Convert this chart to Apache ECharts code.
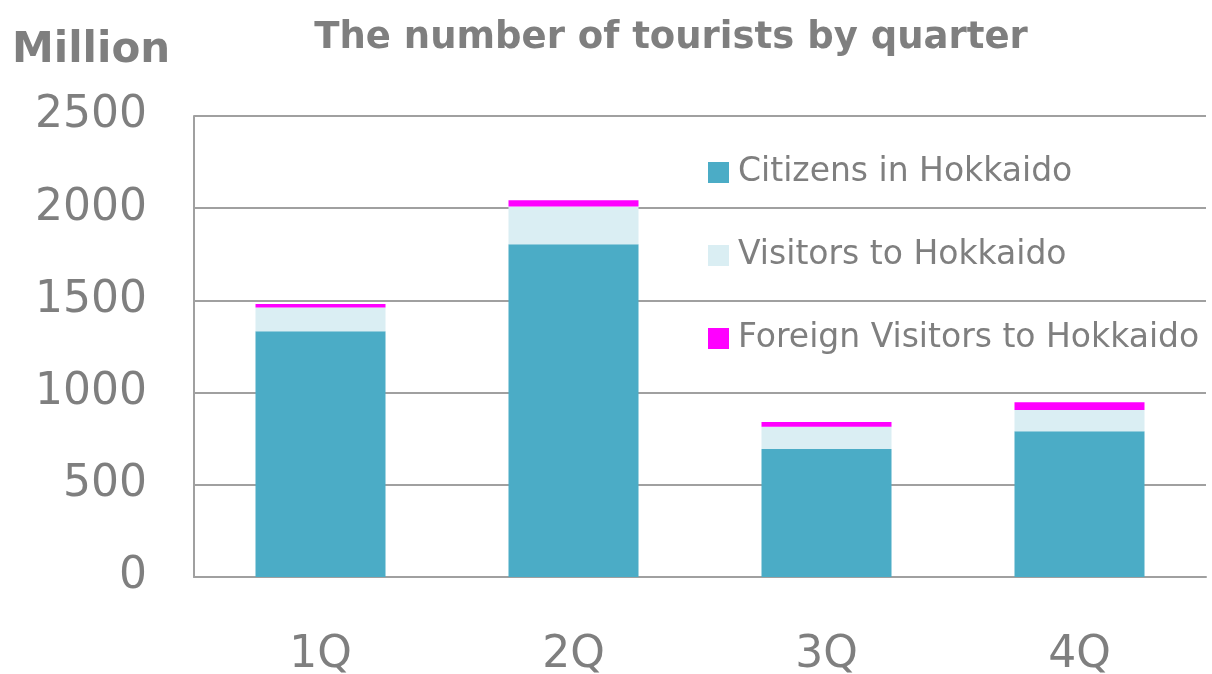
<!DOCTYPE html>
<html>
<head>
<meta charset="utf-8">
<script src="https://cdn.jsdelivr.net/npm/echarts@6/dist/echarts.min.js"></script>
<style>
    html, body { margin: 0; padding: 0; background: #fff; }
    #chart { width: 1212px; height: 674px; }
</style>
</head>
<body>
<div id="chart"></div>
<script>

// 資料

const quarters = ['1Q', '2Q', '3Q', '4Q'];
const citizens = [1333, 1805, 694, 791];
const visitors = [129, 204, 121, 114];
const foreign = [19, 34, 25, 42];
const yTicks = [0, 500, 1000, 1500, 2000, 2500];

const grayText = '#7f7f7f';
const gridGray = '#a0a0a0';

const chart = echarts.init(document.querySelector('#chart'));

const option = {
    animation: false,
    textStyle: { fontFamily: 'DejaVu Sans' },
    title: [
        {
            text: 'The number of tourists by quarter',
            left: 671,
            top: 20,
            textAlign: 'center',
            padding: 0,
            textStyle: { color: grayText, fontSize: 37, fontWeight: 'bold', fontFamily: 'DejaVu Sans' }
        },
        {
            text: 'Million',
            left: 12,
            top: 30,
            padding: 0,
            textStyle: { color: grayText, fontSize: 42, fontWeight: 'bold', fontFamily: 'DejaVu Sans' }
        }
    ],
    legend: {
        orient: 'vertical',
        left: 708,
        top: 156,
        padding: 0,
        itemWidth: 21,
        itemHeight: 21,
        itemGap: 50,
        icon: 'rect',
        selectedMode: false,
        textStyle: { color: grayText, fontSize: 33, padding: [0, 0, 0, 4], fontFamily: 'DejaVu Sans' },
        data: ['Citizens in Hokkaido', 'Visitors to Hokkaido', 'Foreign Visitors to Hokkaido']
    },
    grid: {
        left: 194,
        right: 6,
        top: 116,
        bottom: 97,
        containLabel: false,
        outerBoundsMode: 'none'
    },
    xAxis: {
        type: 'category',
        data: quarters,
        axisTick: { show: false },
        axisLine: { lineStyle: { color: gridGray, width: 2 } },
        axisLabel: { color: grayText, fontSize: 44, margin: 57, fontFamily: 'DejaVu Sans' }
    },
    yAxis: {
        type: 'value',
        min: yTicks[0],
        max: yTicks[yTicks.length - 1],
        interval: 500,
        axisLine: { show: true, lineStyle: { color: gridGray, width: 2 } },
        axisTick: { show: false },
        splitLine: { lineStyle: { color: gridGray, width: 2 } },
        axisLabel: {
            color: grayText,
            fontSize: 44,
            margin: 47,
            padding: [7, 0, 0, 0],
            fontFamily: 'DejaVu Sans',
            formatter: value => String(value)
        }
    },
    series: [
        {
            name: 'Citizens in Hokkaido',
            type: 'bar',
            stack: 'total',
            barWidth: 130,
            data: citizens,
            itemStyle: { color: '#4bacc6' }
        },
        {
            name: 'Visitors to Hokkaido',
            type: 'bar',
            stack: 'total',
            barWidth: 130,
            data: visitors,
            itemStyle: { color: '#daeef3' }
        },
        {
            name: 'Foreign Visitors to Hokkaido',
            type: 'bar',
            stack: 'total',
            barWidth: 130,
            data: foreign,
            itemStyle: { color: '#ff00ff' }
        }
    ]
};

option && chart.setOption(option);

</script>
</body>
</html>
